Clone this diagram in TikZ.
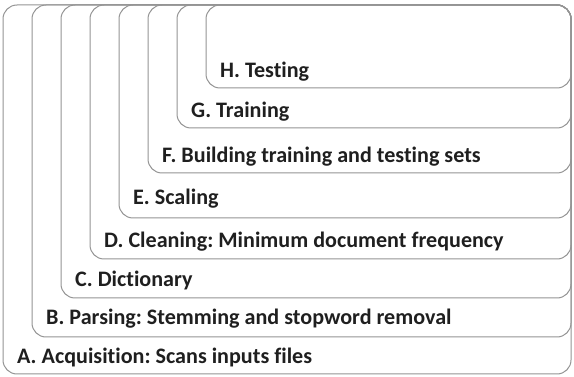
\documentclass[tikz,border=0pt]{standalone}
\usepackage{fontspec}
\setmainfont[Ligatures=NoCommon]{Carlito}
\frenchspacing
\begin{document}
\begin{tikzpicture}[x=1pt,y=-1pt,
  stage/.style={draw=black!42, line width=1pt, rounded corners=14pt},
  stagelabel/.style={anchor=west, inner sep=0pt, font=\bfseries\fontsize{22.1}{26}\selectfont, text=black!88}]
  \useasboundingbox (0,0) rectangle (574,377);
  % nested stages: common top and right edge, left and bottom edges step inwards
  \foreach \name/\lx/\by/\ty/\txt in {
      A/3/374/357/{A. Acquisition: Scans inputs files},
      B/32/337/319/{B. Parsing: Stemming and stopword removal},
      C/61/298/280/{C. Dictionary},
      D/90/259/242/{D. Cleaning: Minimum document frequency},
      E/119/218/199/{E. Scaling},
      F/148/173/157/{F. Building training and testing sets},
      G/177/128/112/{G. Training},
      H/206/88/72/{H. Testing}} {
    \draw[stage] (\lx,5) rectangle (571,\by);
    \node[stagelabel] (\name) at (\lx+14,\ty) {\txt};
  }
\end{tikzpicture}
\end{document}
